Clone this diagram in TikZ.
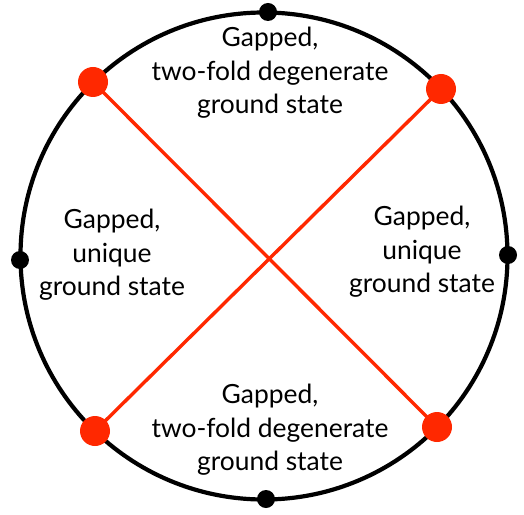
\documentclass[tikz,border=0pt]{standalone}
\usepackage{fontspec}
\setmainfont{Lato}
\definecolor{myred}{RGB}{255,40,0}
\begin{document}
\begin{tikzpicture}[x=1bp,y=-1bp,
  reddot/.style={circle,fill=myred,inner sep=0pt,minimum size=30bp},
  blackdot/.style={circle,fill=black,inner sep=0pt,minimum size=18bp},
  redline/.style={draw=myred,line width=3.4bp},
  lbl/.style={align=center,inner sep=0pt,font=\fontsize{26.5}{33.5}\selectfont}]
\useasboundingbox (0,0) rectangle (524,515);
\draw[line width=4.2bp] (264,256) circle[radius=243.5bp];
\node[blackdot] (top) at (268,12) {};
\node[blackdot] (bot) at (266,499) {};
\node[blackdot] (lft) at (20,260) {};
\node[blackdot] (rgt) at (508,255) {};
\coordinate (tl) at (93,82);
\coordinate (tr) at (441,89);
\coordinate (bl) at (95,431);
\coordinate (br) at (437,427);
\draw[redline] (tl) -- (br);
\draw[redline] (tr) -- (bl);
\node[reddot] (ntl) at (tl) {};
\node[reddot] (ntr) at (tr) {};
\node[reddot] (nbl) at (bl) {};
\node[reddot] (nbr) at (br) {};
\node[lbl] (ttop) at (270,73) {Gapped,\\two-fold degenerate\\ground state};
\node[lbl] (tbot) at (270,430) {Gapped,\\two-fold degenerate\\ground state};
\node[lbl] (tlft) at (112,255) {Gapped,\\unique\\ground state};
\node[lbl] (trgt) at (422,252) {Gapped,\\unique\\ground state};
\end{tikzpicture}
\end{document}
